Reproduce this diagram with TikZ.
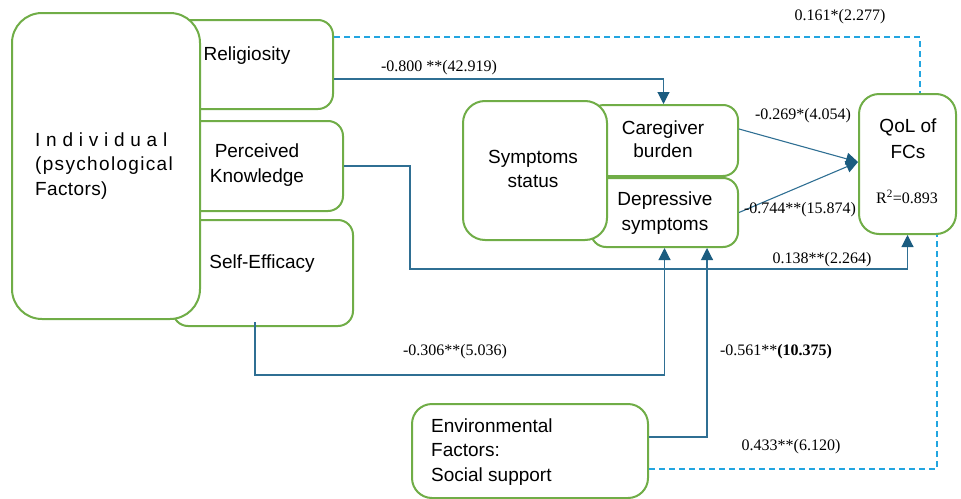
\documentclass[tikz,border=0pt]{standalone}
\usepackage{fontspec}
\setmainfont{Liberation Sans}
\newfontfamily\numfont{Liberation Serif}
\usetikzlibrary{arrows.meta}
\definecolor{bgreen}{HTML}{70AD47}
\definecolor{lblue}{HTML}{2F6F93}
\definecolor{ablue}{HTML}{1B5C80}
\definecolor{dblue}{HTML}{22A5E0}
\begin{document}
\begin{tikzpicture}[x=1pt,y=-1pt,
 box/.style={draw=bgreen,line width=2pt,fill=white,rounded corners=#1,inner sep=0pt,anchor=north west},
 box/.default=15pt,
 txt/.style={font=\fontsize{19}{24.5}\selectfont,align=center,inner sep=0pt},
 num/.style={font=\numfont\fontsize{16}{18}\selectfont,inner sep=0pt},
 conn/.style={draw=lblue,line width=1.1pt},
 arr/.style={-{Triangle[length=12pt,width=12pt,color=ablue]}},
 dsh/.style={draw=dblue,line width=2pt,dash pattern=on 6pt off 4pt}]
\useasboundingbox (0,0) rectangle (961,498);
% individual factor boxes
\node[box,minimum width=157pt,minimum height=89pt] (rel) at (175,19) {};
\node[box,minimum width=164pt,minimum height=90pt] (pk) at (178,120) {};
\node[box,minimum width=180pt,minimum height=106pt] (se) at (172,219) {};
\node[box=30pt,minimum width=188pt,minimum height=306pt] (ind) at (11,12) {};
% symptoms
\node[box,minimum width=149pt,minimum height=71pt] (care) at (588,104) {};
\node[box,minimum width=147pt,minimum height=69pt] (dep) at (590,177) {};
\node[box=22pt,minimum width=144pt,minimum height=139pt] (ss) at (462,100) {};
% outcome and environment
\node[box=20pt,minimum width=97pt,minimum height=140pt] (qol) at (858,93) {};
\node[box=20pt,minimum width=236pt,minimum height=94pt] (env) at (411,403) {};
% texts
\node[txt,align=left,anchor=west] (indT) at (35,166) {{\addfontfeatures{LetterSpace=2.5}I n d i v i d u a l}\\{\addfontfeatures{LetterSpace=7}(psychological}\\{\addfontfeatures{LetterSpace=2}Factors)}};
\node[txt] (relT) at (247,56) {Religiosity};
\node[txt] (pkT) at (257,165) {Perceived\\Knowledge};
\node[txt] (seT) at (262,264) {Self-Efficacy};
\node[txt] (ssT) at (533,169) {Symptoms\\status};
\node[txt,font=\fontsize{19}{23}\selectfont] (careT) at (663,139) {Caregiver\\burden};
\node[txt] (depT) at (665,213) {Depressive\\symptoms};
\node[txt,font=\fontsize{19}{26}\selectfont] (qolT) at (908,139) {QoL of\\FCs};
\node[num] (r2) at (907,197) {R\textsuperscript{2}=0.893};
\node[txt,align=left,anchor=west] (envT) at (431,452) {Environmental\\Factors:\\Social support};
% coordinates for bends
\coordinate (relY) at (0,79);
\coordinate (reld) at (920,37);
\coordinate (pkb) at (410,269);
\coordinate (seb) at (255,375);
\coordinate (envx) at (707,437);
\coordinate (envd) at (937,469);
% connectors
\draw[conn,arr] (rel.east |- relY) -| (care.north);
\draw[dsh] (rel.east |- reld) -| (qol.north -| reld);
\draw[conn,arr] (pk.east) -| (pkb) -| (qol.south);
\draw[conn,arr] ([yshift=5pt]se.south -| seb) -- (seb) -| (dep.south);
\draw[conn,arr] (env.east |- envx) -| (dep.south -| envx);
\draw[dsh] (env.east |- envd) -| (qol.south -| envd);
\draw[conn,arr] ([yshift=11.5pt]care.east) -- ([yshift=2pt]qol.west);
\draw[conn,arr] (dep.east) -- ([yshift=2pt]qol.west);
% path labels
\node[num] (l1) at (840,17) {0.161*(2.277)};
\node[num] (l2) at (439,68) {-0.800 **(42.919)};
\node[num] (l3) at (803,116) {-0.269*(4.054)};
\node[num] (l4) at (800,210) {-0.744**(15.874)};
\node[num] (l5) at (822,260) {0.138**(2.264)};
\node[num] (l6) at (455,352) {-0.306**(5.036)};
\node[num] (l7) at (776,352) {-0.561**\textbf{(10.375)}};
\node[num] (l8) at (791,447) {0.433**(6.120)};
\end{tikzpicture}
\end{document}
